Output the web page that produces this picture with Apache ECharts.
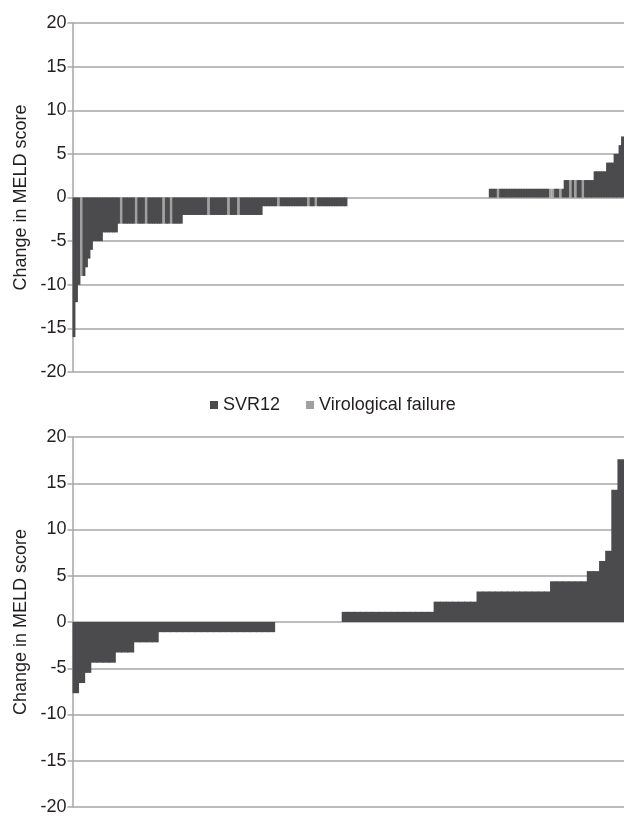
<!DOCTYPE html>
<html>
<head>
<meta charset="utf-8">
<script src="https://cdn.jsdelivr.net/npm/echarts@6/dist/echarts.min.js"></script>
<style>
html,body{margin:0;padding:0;background:#fff;}
#chart{width:624px;height:816px;}
</style>
</head>
<body>
<div id="chart"></div>
<script>
// Top panel: runs of consecutive patients (sorted), value = change in MELD score
// outcome: 'S' = SVR12, 'V' = Virological failure
const topRunValues  = [-16,-12,-10,-9,-9,-8,-7,-6,-5,-4,-3,-3,-3,-3,-3,-3,-3,-3,-3,-3,-3,-2,-2,-2,-2,-2,-2,-2,-1,-1,-1,-1,-1,-1,-1,0,1,1,1,1,1,1,1,1,2,2,2,2,2,2,2,3,4,5,6,7];
const topRunCounts  = [1,1,1,1,1,1,1,1,4,6,1,1,5,1,3,1,6,1,2,1,4,10,1,7,1,3,1,9,6,1,11,1,2,1,12,57,3,1,20,1,1,2,1,1,2,1,1,1,2,1,4,5,3,2,1,1];
const topRunOutcome = ['S','S','S','V','S','S','S','S','S','S','S','V','S','V','S','V','S','V','S','V','S','S','V','S','V','S','V','S','S','V','S','V','S','V','S','S','S','V','S','V','V','S','V','S','S','V','S','V','S','V','S','S','S','S','S','S'];

// Bottom panel: runs of consecutive patients (sorted)
const bottomRunValues = [-7.7,-6.6,-5.5,-4.4,-3.3,-2.2,-1.1,0,1.1,2.2,3.3,4.4,5.5,6.6,7.7,14.3,17.6];
const bottomRunCounts = [1,1,1,4,3,4,19,11,15,7,12,6,2,1,1,1,1];

const yTicks = {min:-20, max:20, interval:5};
const seriesNames = ['SVR12','Virological failure'];
const yTitle = 'Change in MELD score';

function expand(values, counts, outcomes){
  const svr = [], vf = [], cats = [];
  let k = 0;
  for (let i = 0; i < values.length; i++){
    for (let j = 0; j < counts[i]; j++){
      const o = outcomes ? outcomes[i] : 'S';
      svr.push(o === 'S' ? values[i] : null);
      vf.push(o === 'V' ? values[i] : null);
      cats.push(String(k++));
    }
  }
  return {svr, vf, cats};
}
const topD = expand(topRunValues, topRunCounts, topRunOutcome);
const botD = expand(bottomRunValues, bottomRunCounts, null);

const DARK = '#4b4b4d', LIGHT = '#a0a0a0', GRID = '#a6a6a6', TXT = '#231f20';
const FONT = '"Liberation Sans", Arial, sans-serif';

function yAxis(idx){
  return {
    gridIndex: idx, type:'value', min:yTicks.min, max:yTicks.max, interval:yTicks.interval,
    name: yTitle, nameLocation:'middle', nameGap:37, nameRotate:90,
    nameTextStyle:{fontFamily:FONT, fontSize:18, color:TXT},
    axisLine:{show:true, lineStyle:{color:GRID, width:1.5}},
    axisTick:{show:true, length:5, inside:false, lineStyle:{color:GRID, width:1.5}},
    axisLabel:{fontFamily:FONT, fontSize:18, color:TXT, margin:6},
    splitLine:{show:true, lineStyle:{color:GRID, width:1.5}}
  };
}
function xAxis(idx, cats){
  return {
    gridIndex: idx, type:'category', data:cats, boundaryGap:true,
    axisLine:{show:false}, axisTick:{show:false}, axisLabel:{show:false}, splitLine:{show:false}
  };
}
// SVR bars are drawn slightly wider than their slot so that adjacent bars join without seams;
// failure bars sit on an overlaid copy of the category axis at exact slot width.
function barSeries(name, xi, yi, data, color, width, z){
  return {name:name, type:'bar', xAxisIndex:xi, yAxisIndex:yi, data:data, z:z,
    barWidth:width, itemStyle:{color:color}};
}

const chart = echarts.init(document.getElementById('chart'), null, {renderer:'canvas'});
chart.setOption({
  animation:false,
  backgroundColor:'#fff',
  grid:[
    {left:72.5, top:23, width:552, height:349},
    {left:72.5, top:437, width:552, height:376}
  ],
  legend:{
    data:seriesNames, left:205, top:391, itemWidth:8, itemHeight:8, itemGap:26, icon:'rect',
    textStyle:{fontFamily:FONT, fontSize:18, color:TXT}
  },
  xAxis:[xAxis(0, topD.cats), xAxis(1, botD.cats), xAxis(0, topD.cats), xAxis(1, botD.cats)],
  yAxis:[yAxis(0), yAxis(1)],
  series:[
    barSeries(seriesNames[0], 0, 0, topD.svr, DARK, '135%', 2),
    barSeries(seriesNames[1], 2, 0, topD.vf, LIGHT, '100%', 3),
    barSeries(seriesNames[0], 1, 1, botD.svr, DARK, '114%', 2),
    barSeries(seriesNames[1], 3, 1, botD.vf, LIGHT, '100%', 3)
  ]
});
</script>
</body>
</html>
